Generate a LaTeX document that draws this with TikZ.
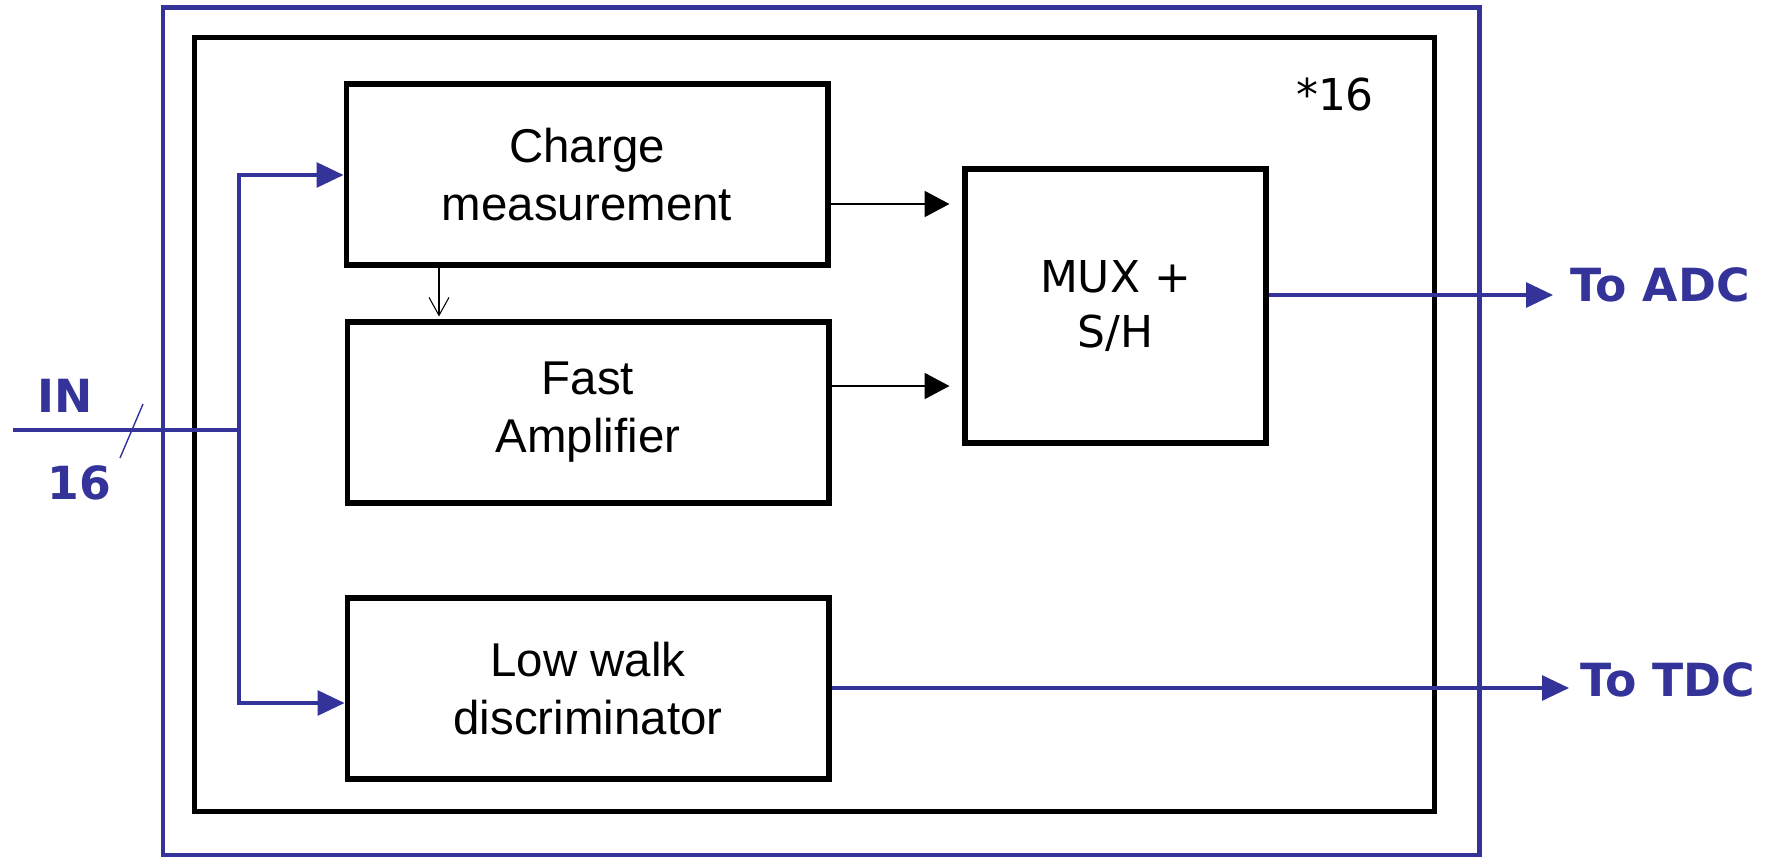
\documentclass[tikz,border=0pt]{standalone}
\usepackage{fontspec}
\setmainfont{Liberation Sans}
\newfontfamily\comicfont{DejaVu Sans}
\usetikzlibrary{positioning, arrows.meta, calc}
\definecolor{sigblue}{RGB}{51,51,153}
\tikzset{
	blocktext/.style={font=\fontsize{27}{33}\selectfont}
}
\tikzset{
	bluetext/.style={font=\comicfont\bfseries\fontsize{26}{30}\selectfont, text=sigblue, inner sep=0pt}
}
\begin{document}
\begin{tikzpicture}[x=0.02cm, y=-0.02cm]

      \tikzset{
        blockbox/.style={
            shape=rectangle,
            draw=black,
            line width=2.9pt,
            fill=white,
            align=center,
            inner sep=0pt,
            minimum width=9.64cm,
            minimum height=3.62cm,
            blocktext
          },
        bluewire/.style={draw=sigblue, line width=1.8pt},
        bluearrow/.style={bluewire, -{Triangle[length=0.54cm,width=0.5cm]}},
        blackarrow/.style={draw=black, line width=1.2pt, -{Triangle[length=0.5cm,width=0.52cm]}},
        thinarrow/.style={draw=black, line width=0.6pt, -{Straight Barb[length=0.36cm,width=0.4cm]}}
      }

      \useasboundingbox (0,0) rectangle (1774,856);

      % outer and inner frames
      \draw[sigblue, line width=2.7pt] (163,855) rectangle (1479.5,7.5);
      \draw[black, line width=2.9pt] (194.5,37.5) rectangle (1434.5,811.5);
      \node[font=\comicfont\fontsize{25}{30}\selectfont] (times) at (1335,95) {*16};

      \node[blockbox] (chg) at (587,174.5) {Charge\\measurement};
      \node[blockbox] (fast) at (588,412.5) {Fast\\Amplifier};
      \node[blockbox] (lwd) at (588,688.5) {Low walk\\discriminator};
      \node[blockbox, minimum width=6.02cm, minimum height=5.48cm,
        font=\comicfont\fontsize{25}{31}\selectfont] (mux) at (1115.5,306) {MUX +\\S/H};

      \coordinate (cq) at (0,204);
      \coordinate (fq) at (0,386);
      \coordinate (dq) at (439,0);
      \draw[blackarrow, shorten >=0.26cm] (chg.east |- cq) -- (mux.west |- cq);
      \draw[blackarrow, shorten >=0.26cm] (fast.east |- fq) -- (mux.west |- fq);
      \draw[thinarrow, shorten >=0.06cm] (chg.south -| dq) -- (fast.north -| dq);

      % input bus
      \coordinate (inL) at (13,430);
      \coordinate (split) at (239,430);
      \coordinate (tq) at (0,175);
      \coordinate (lq) at (0,703);
      \draw[bluewire] (inL) -- (split);
      \draw[bluearrow] (split) |- (chg.west |- tq);
      \draw[bluearrow] (split) |- (lwd.west |- lq);
      \draw[sigblue, line width=0.8pt] (143,404) -- (120,458);
      \node[bluetext] (inlbl) at (65,396) {IN};
      \node[bluetext] (nlbl) at (79,483) {16};

      % outputs
      \node[bluetext, anchor=west] (adc) at (1570,285) {To ADC};
      \node[bluetext, anchor=west] (tdc) at (1580,680) {To TDC};
      \coordinate (aq) at (0,295);
      \coordinate (bq) at (0,688);
      \draw[bluearrow, shorten >=0.34cm] (mux.east |- aq) -- (adc.west |- aq);
      \draw[bluearrow, shorten >=0.22cm] (lwd.east |- bq) -- (tdc.west |- bq);
    \end{tikzpicture}
\end{document}
